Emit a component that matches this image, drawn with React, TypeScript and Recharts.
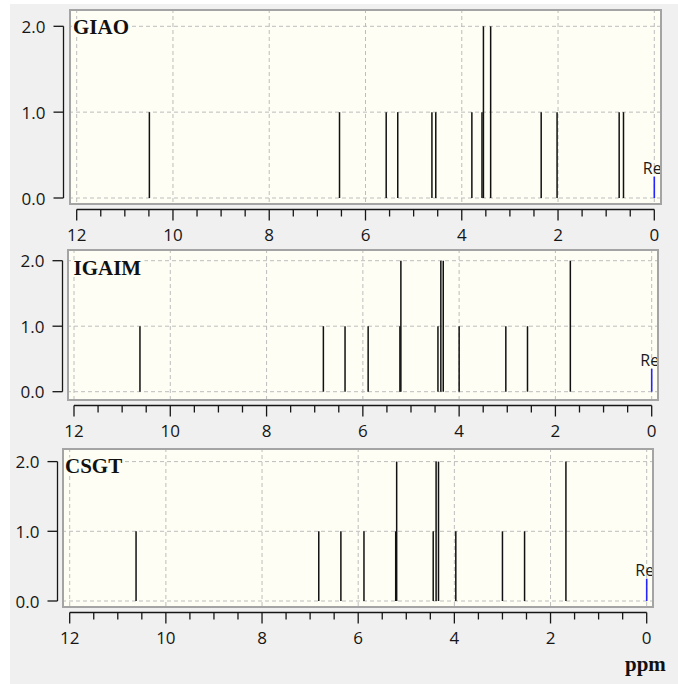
import React from 'react';
import { ComposedChart, Scatter, ErrorBar, XAxis, YAxis, CartesianGrid } from 'recharts';

// ---------------- data ----------------
const methodNames = ['GIAO', 'IGAIM', 'CSGT'];

const giaoPpm = [10.49, 6.54, 5.57, 5.33, 4.62, 4.54, 3.79, 3.58, 3.55, 3.4, 2.35, 2.02, 0.73, 0.64];
const giaoHeight = [1, 1, 1, 1, 1, 1, 1, 1, 2, 2, 1, 1, 1, 1];

const igaimPpm = [10.63, 6.82, 6.37, 5.89, 5.23, 5.21, 4.44, 4.38, 4.33, 4.0, 3.03, 2.58, 1.69];
const igaimHeight = [1, 1, 1, 1, 1, 2, 1, 2, 2, 1, 1, 1, 2];

const csgtPpm = [10.62, 6.82, 6.36, 5.88, 5.22, 5.2, 4.44, 4.38, 4.33, 3.97, 3.0, 2.54, 1.68];
const csgtHeight = [1, 1, 1, 1, 1, 2, 1, 2, 2, 1, 1, 1, 2];

const refPpm = [0, 0, 0];
const refHeight = [0.25, 0.35, 0.32];
const refLabel = 'Re';

const xTicks = [0, 0.5, 1, 1.5, 2, 2.5, 3, 3.5, 4, 4.5, 5, 5.5, 6, 6.5, 7, 7.5, 8, 8.5, 9, 9.5, 10, 10.5, 11, 11.5, 12];
const xLabelTicks = [0, 2, 4, 6, 8, 10, 12];
const yTicks = [0, 1, 2];
const xUnitLabel = 'ppm';

const seriesPpm = [giaoPpm, igaimPpm, csgtPpm];
const seriesHeight = [giaoHeight, igaimHeight, csgtHeight];

// ---------------- layout (pixels) ----------------
const layouts = [
  { fl: 69, ft: 9, fr: 662, fb: 205, x12: 76.7, x0: 654.3, y2: 26.3, y0: 198, axY: 209.5, axX: 63.5, tx: 73, ty: 34 },
  { fl: 67, ft: 249, fr: 659, fb: 401, x12: 74, x0: 651.7, y2: 260.7, y0: 391.7, axY: 405.5, axX: 62.5, tx: 73.5, ty: 275 },
  { fl: 62, ft: 448, fr: 654, fb: 608, x12: 69.7, x0: 646.7, y2: 461.6, y0: 601, axY: 612.5, axX: 57.5, tx: 65, ty: 472.5 },
];

const TICK_FONT = '"Open Sans", "Liberation Sans", sans-serif';
const TITLE_FONT = '"Liberation Serif", "Times New Roman", serif';
const INK = '#161616';
const PLOT_BG = '#fefef5';

const NoDot = () => <g />;
const NoTick = () => <g />;

const RefMark = (props: any) => (
  <text
    x={props.cx - 2}
    y={props.cy - 3}
    textAnchor="middle"
    fontSize={16}
    fontFamily={TICK_FONT}
    fill="#1a1a1a"
  >
    {props.payload && props.payload.label}
  </text>
);

const XTick = (props: any) => {
  const { x, y, payload } = props;
  const v = payload.value;
  const major = xLabelTicks.indexOf(v) >= 0;
  return (
    <g>
      <line x1={x} x2={x} y1={y} y2={y + (major ? 11 : 7)} stroke={INK} strokeWidth={1.3} />
      {major && (
        <text
          x={x}
          y={y + 25}
          textAnchor="middle"
          dominantBaseline="central"
          fontSize={17}
          fontFamily={TICK_FONT}
          fill={INK}
        >
          {v}
        </text>
      )}
    </g>
  );
};

const YTick = (props: any) => {
  const { x, y, payload } = props;
  return (
    <g>
      <line x1={x - 10} x2={x} y1={y} y2={y} stroke={INK} strokeWidth={1.3} />
      <text
        x={x - 18}
        y={y}
        textAnchor="end"
        dominantBaseline="central"
        fontSize={17}
        fontFamily={TICK_FONT}
        fill={INK}
      >
        {Number(payload.value).toFixed(1)}
      </text>
    </g>
  );
};

function Panel({ idx }: { idx: number }) {
  const L = layouts[idx];
  const ppm = seriesPpm[idx];
  const hts = seriesHeight[idx];
  const peaks = ppm.map((p, i) => ({ ppm: p, h: hts[i], err: [hts[i], 0] }));
  const refData = [{ ppm: refPpm[idx], h: refHeight[idx], err: [refHeight[idx], 0], label: refLabel }];

  const W = L.fr - L.fl;
  const H = L.fb - L.ft;

  // x-axis chart geometry
  const xcLeft = Math.floor(L.x12) - 30;
  const xcTop = Math.floor(L.axY) - 4;
  const xcW = Math.ceil(L.x0) + 30 - xcLeft;
  const xAxisH = 40;
  const xcMTop = L.axY - xcTop - 2;
  const xcH = Math.ceil(L.axY - xcTop + xAxisH) + 2;
  const xcMBottom = xcH - (L.axY - xcTop) - xAxisH;

  // y-axis chart geometry
  const ycLeft = 0;
  const yAxisW = 50;
  const ycMLeft = L.axX - yAxisW - ycLeft;
  const ycW = Math.ceil(L.axX + 3) - ycLeft;
  const ycTop = Math.floor(L.y2) - 10;
  const ycMTop = L.y2 - ycTop;
  const ycH = Math.ceil(L.y0) + 10 - ycTop;
  const ycMBottom = ycH - (L.y0 - ycTop);

  return (
    <>
      {/* plot frame */}
      <div style={{ position: 'absolute', left: L.fl, top: L.ft }}>
        <ComposedChart width={W} height={H} margin={{ top: 0, right: 0, bottom: 0, left: 0 }}>
          <CartesianGrid fill={PLOT_BG} stroke="#bdbdbd" strokeDasharray="4 3" />
          <XAxis
            type="number"
            dataKey="ppm"
            domain={[0, 12]}
            reversed
            ticks={xLabelTicks}
            interval={0}
            height={0}
            tickSize={0}
            tick={NoTick}
            tickLine={false}
            axisLine={false}
            padding={{ left: L.x12 - L.fl, right: L.fr - L.x0 }}
          />
          <YAxis
            type="number"
            dataKey="h"
            domain={[0, 2]}
            ticks={yTicks}
            interval={0}
            width={0}
            tickSize={0}
            tick={NoTick}
            tickLine={false}
            axisLine={false}
            padding={{ top: L.y2 - L.ft, bottom: L.fb - L.y0 }}
          />
          <Scatter data={peaks} dataKey="h" shape={NoDot} isAnimationActive={false}>
            <ErrorBar dataKey="err" direction="y" width={0} stroke="#111111" strokeWidth={1.5} />
          </Scatter>
          <Scatter data={refData} dataKey="h" shape={RefMark} isAnimationActive={false}>
            <ErrorBar dataKey="err" direction="y" width={0} stroke="#2424ff" strokeWidth={1.6} />
          </Scatter>
        </ComposedChart>
      </div>

      {/* x axis */}
      <div style={{ position: 'absolute', left: xcLeft, top: xcTop }}>
        <ComposedChart
          width={xcW}
          height={xcH}
          margin={{ top: xcMTop, bottom: xcMBottom, left: L.x12 - xcLeft, right: xcLeft + xcW - L.x0 }}
        >
          <XAxis
            type="number"
            dataKey="ppm"
            domain={[0, 12]}
            reversed
            ticks={xTicks}
            interval={0}
            tickSize={0}
            tickMargin={0}
            tickLine={false}
            tick={XTick}
            height={xAxisH}
            axisLine={{ stroke: INK, strokeWidth: 1.3 }}
          />
          <YAxis
            type="number"
            dataKey="h"
            domain={[0, 2]}
            width={0}
            tick={false}
            tickLine={false}
            axisLine={false}
          />
          <Scatter data={peaks} dataKey="h" shape={NoDot} isAnimationActive={false} />
        </ComposedChart>
      </div>

      {/* y axis */}
      <div style={{ position: 'absolute', left: ycLeft, top: ycTop }}>
        <ComposedChart
          width={ycW}
          height={ycH}
          margin={{ top: ycMTop, bottom: ycMBottom, left: ycMLeft, right: 0 }}
        >
          <XAxis
            type="number"
            dataKey="ppm"
            domain={[0, 12]}
            height={0}
            tick={false}
            tickLine={false}
            axisLine={false}
          />
          <YAxis
            type="number"
            dataKey="h"
            domain={[0, 2]}
            ticks={yTicks}
            interval={0}
            tickSize={0}
            tickMargin={0}
            tickLine={false}
            tick={YTick}
            width={yAxisW}
            axisLine={{ stroke: INK, strokeWidth: 1.3 }}
          />
          <Scatter data={peaks} dataKey="h" shape={NoDot} isAnimationActive={false} />
        </ComposedChart>
      </div>
    </>
  );
}

export default function App() {
  return (
    <div style={{ position: 'absolute', left: 0, top: 0, width: 678, height: 684, background: '#ffffff', overflow: 'hidden' }}>
      <div style={{ position: 'absolute', left: 10, top: 4, width: 668, height: 680, background: '#f0f0f0' }} />
      {[0, 1, 2].map((i) => (
        <Panel key={i} idx={i} />
      ))}
      <svg
        width={678}
        height={684}
        style={{ position: 'absolute', left: 0, top: 0, pointerEvents: 'none' }}
      >
        {layouts.map((L, i) => (
          <g key={i}>
            <rect x={L.fl + 1} y={L.ft + 1} width={L.fr - L.fl - 2} height={L.fb - L.ft - 2} fill="none" stroke="#a4a4a4" strokeWidth={2} />
            <rect x={L.tx - 1} y={L.ty - 15} width={methodNames[i].length * 14 + 2} height={17} fill={PLOT_BG} />
            <text x={L.tx} y={L.ty} fontSize={21} fontWeight="bold" fontFamily={TITLE_FONT} fill="#111">
              {methodNames[i]}
            </text>
          </g>
        ))}
        <text x={625} y={671} fontSize={21} fontWeight="bold" fontFamily={TITLE_FONT} fill="#111">
          {xUnitLabel}
        </text>
      </svg>
    </div>
  );
}
